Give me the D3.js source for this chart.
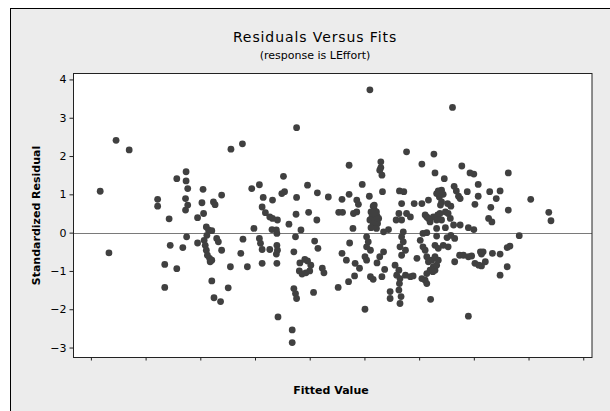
<!DOCTYPE html>
<html>
<head>
<meta charset="utf-8">
<script src="https://cdn.jsdelivr.net/npm/d3@7"></script>
<style>
  html, body { margin: 0; padding: 0; background: #fff; }
  svg { display: block; }
</style>
</head>
<body>
<div id="chart"></div>
<script>
// standardized residuals vs fitted values (response is LEffort)
const fitted = [
  1.17, 1.33, 1.46, 1.70, 2.22, 2.22, 2.43, 2.45, 2.35, 2.35, 2.57, 2.57, 2.68,
  2.74, 2.74, 2.77, 2.73, 2.77, 2.73, 2.75, 3.05, 3.03, 3.06, 2.95, 2.95, 3.24,
  3.27, 3.39, 3.11, 3.15, 3.21, 3.12, 3.07, 3.09, 3.11, 3.13, 3.17, 3.21, 3.18,
  3.30, 3.33, 3.39, 3.55, 3.21, 3.51, 3.25, 3.37, 3.56, 3.77, 3.94, 4.08, 4.15,
  4.32, 4.52, 4.49, 4.54, 4.76, 4.13, 4.19, 4.27, 4.32, 4.41, 4.62, 4.75, 3.98,
  4.31, 4.39, 4.40, 4.08, 4.10, 4.13, 4.27, 4.40, 4.41, 4.39, 4.74, 4.71, 3.78,
  3.74, 3.86, 4.13, 4.40, 4.71, 4.74, 4.76, 4.42, 4.68, 4.68, 4.76, 4.84,
  4.82, 4.81, 4.86, 4.93, 5.00, 5.02, 4.96, 4.91,
  4.96, 4.98, 5.09, 5.07, 5.13, 5.14, 5.15, 5.23, 5.26, 5.34, 5.52, 5.53, 5.60,
  5.59, 5.72, 6.30, 6.30, 6.28, 6.32, 7.05, 6.77, 5.96, 5.72, 5.86, 5.89, 5.86,
  6.09, 6.33, 6.64, 6.72, 6.68, 6.91, 7.05, 7.17, 5.80,
  6.16, 6.18, 6.12, 6.22, 6.14, 6.23, 6.10, 6.21, 6.16, 6.24, 6.12, 6.22, 6.18,
  6.17, 6.26,
  5.79, 6.63, 6.77, 6.58, 6.68, 6.84, 7.14, 6.35, 6.44, 6.71, 6.68, 6.71, 6.65,
  6.75, 6.68, 6.04, 6.07, 6.04, 6.11, 6.01, 6.04, 5.73, 5.59, 5.67, 6.35, 6.28,
  6.23, 5.83, 5.91, 7.02, 7.07, 7.11, 6.96, 6.56, 6.63, 6.59, 6.65, 6.64, 6.63,
  6.67, 6.65, 6.75, 6.84, 6.89, 7.05, 7.11, 7.14, 6.11, 6.16, 6.32, 5.82, 5.71,
  6.47, 6.47, 6.01, 6.10, 6.37,
  7.27, 7.78, 7.29, 7.46, 7.93, 8.00, 7.64, 7.68, 8.08, 8.63, 7.35, 7.41, 7.44,
  7.37, 7.32, 7.72, 7.75, 7.88, 8.29, 8.48, 8.08, 8.41, 7.52, 7.58, 7.41, 7.39,
  8.02, 8.31, 8.63, 7.11, 7.17, 7.26, 7.34, 7.38, 7.48, 7.53, 7.32, 7.41, 7.57,
  7.20, 8.27, 8.33, 7.63, 7.75, 7.90, 8.00, 7.32, 7.48, 7.07, 7.14, 7.32, 7.51,
  7.65, 7.14, 7.17, 7.23, 7.26, 7.20, 7.14, 7.29, 7.35, 7.44, 7.53, 7.29, 7.35,
  7.32, 7.29, 7.25, 7.65, 7.74, 7.81, 7.90, 7.96, 8.12, 8.17, 8.14, 8.02, 8.09,
  8.14, 8.21, 8.34, 8.48, 8.61, 8.66, 8.61, 8.48, 7.21, 7.90, 9.37, 9.41, 8.83,
  9.04, 7.61, 7.58
];
const stdResid = [
  1.08, -0.53, 2.41, 2.16, 0.87, 0.69, 0.36, -0.33, -0.83, -1.43, -0.94, 1.41, -0.39,
  1.59, 1.35, 1.15, 0.89, 0.72, 0.59, -0.11, 1.13, 0.78, 0.50, 0.39, -0.27, 0.80,
  0.73, 0.98, 0.15, 0.07, 0.05, -0.07, -0.20, -0.33, -0.46, -0.59, -0.67, -0.72, -0.76,
  -0.15, -0.24, -0.46, -0.89, -1.26, -1.44, -1.70, -1.80, 2.18, 2.32, 1.15, 1.25, 0.92,
  0.85, 1.47, 1.02, 1.07, 0.92, 0.67, 0.52, 0.41, 0.37, 0.33, 0.22, 0.48, 0.11,
  0.08, 0.07, -0.02, -0.15, -0.28, -0.44, -0.44, -0.33, -0.46, -0.56, -0.11, -0.50, -0.17,
  -0.54, -0.89, -0.80, -0.80, -1.46, -1.59, -1.72, -2.20, -2.54, -2.87, 2.74, 0.07,
  -0.79, -1.00, -1.08, -1.05, -1.00, -0.85, -0.74, -0.70,
  1.24, 0.53, -0.22, -1.56, 0.33, 1.04, -0.41, -0.93, -1.05, 0.93, -1.43, 0.53, 0.53,
  0.87, 1.76, 1.85, 1.70, 1.63, 1.50, 1.79, 2.11, 1.26, 1.00, 0.85, 0.74, 0.54,
  0.95, 1.07, 1.09, 1.07, 0.76, 0.76, 0.76, 0.85, 0.50,
  0.69, 0.60, 0.54, 0.54, 0.43, 0.43, 0.33, 0.33, 0.22, 0.24, 0.13, 0.11, 0.72,
  0.50, 0.37,
  0.11, 0.50, 0.50, 0.33, 0.33, 0.41, 0.41, 0.02, 0.08, 0.02, -0.11, -0.24, -0.37,
  -0.46, -0.59, -0.11, -0.24, -0.37, -0.46, -0.63, -0.72, -0.27, -0.54, -0.72, -0.50, -0.63,
  -0.79, -0.80, -0.93, -0.20, -0.37, -0.46, -0.67, -0.85, -0.98, -1.11, -1.20, -1.33, -1.50,
  -1.67, -1.85, -1.11, -1.15, -1.13, -1.20, -1.24, -1.33, -1.15, -1.22, -1.15, -1.13, -1.28,
  -1.54, -1.72, -2.00, 3.73, -0.96,
  2.05, 1.74, 1.56, 1.41, 1.56, 1.53, 1.21, 1.09, 1.26, 1.56, 1.09, 1.11, 1.00,
  0.93, 1.02, 0.95, 0.89, 1.07, 1.07, 1.09, 0.95, 0.89, 0.76, 0.69, 0.80, 0.72,
  0.74, 0.66, 0.59, 0.46, 0.37, 0.41, 0.46, 0.50, 0.54, 0.50, 0.33, 0.33, 0.37,
  0.28, 0.37, 0.28, 0.20, 0.20, 0.13, 0.08, 0.11, 0.13, -0.02, 0.00, -0.09, -0.13,
  -0.15, -0.63, -0.76, -0.72, -0.89, -0.98, -1.07, -0.33, -0.41, -0.33, -0.37, -0.63, -0.72,
  -0.85, -0.98, -1.02, -0.76, -0.59, -0.59, -0.63, -0.61, -0.50, -0.50, -0.56, -0.80, -0.85,
  -0.87, -0.76, -0.54, -0.56, -0.39, -0.35, -0.89, -1.11, -1.74, -2.18, 0.53, 0.31, -0.08,
  0.87, 3.27, -0.07
];
const yTicks = [-3, -2, -1, 0, 1, 2, 3, 4];
const xTicks = [1, 2, 3, 4, 5, 6, 7, 8, 9, 10];

const W = 610, H = 411;
const plot = {left: 73.5, top: 73.5, right: 592, bottom: 357.5};

const svg = d3.select("#chart").append("svg")
  .attr("width", W)
  .attr("height", H);

// gray panel, only its left and top edge are in view
svg.append("rect")
  .attr("x", 10.5).attr("y", 8.5)
  .attr("width", W + 20).attr("height", H + 20)
  .attr("fill", "#ececec")
  .attr("stroke", "#000")
  .attr("stroke-width", 1);

const x = d3.scaleLinear().domain([0.682, 10.16]).range([plot.left, plot.right]);
const y = d3.scaleLinear().domain([-3.26, 4.155]).range([plot.bottom, plot.top]);

svg.append("rect")
  .attr("x", plot.left).attr("y", plot.top)
  .attr("width", plot.right - plot.left).attr("height", plot.bottom - plot.top)
  .attr("fill", "#fff");

// zero reference line
svg.append("line")
  .attr("x1", plot.left).attr("x2", plot.right)
  .attr("y1", Math.round(y(0)) + 0.5).attr("y2", Math.round(y(0)) + 0.5)
  .attr("stroke", "#7a7a7a")
  .attr("stroke-width", 1);

svg.append("g")
  .selectAll("circle")
  .data(fitted.map((f, i) => [f, stdResid[i]]))
  .enter().append("circle")
  .attr("cx", d => x(d[0]))
  .attr("cy", d => y(d[1]))
  .attr("r", 3.4)
  .attr("fill", "#404040");

svg.append("rect")
  .attr("x", plot.left).attr("y", plot.top)
  .attr("width", plot.right - plot.left).attr("height", plot.bottom - plot.top)
  .attr("fill", "none")
  .attr("stroke", "#222")
  .attr("stroke-width", 1);

const yAxis = svg.append("g")
  .attr("transform", "translate(" + plot.left + ",0)")
  .call(d3.axisLeft(y).tickValues(yTicks).tickSize(4).tickPadding(3).tickFormat(d3.format("d")));
yAxis.select(".domain").remove();
yAxis.selectAll("text")
  .style("font-family", "'DejaVu Sans', sans-serif")
  .style("font-size", "11px")
  .attr("fill", "#000");
yAxis.selectAll("line").attr("stroke", "#222");

const xAxis = svg.append("g")
  .attr("transform", "translate(0," + plot.bottom + ")")
  .call(d3.axisBottom(x).tickValues(xTicks).tickSize(3).tickFormat(""));
xAxis.select(".domain").remove();
xAxis.selectAll("line").attr("stroke", "#222");

svg.append("text")
  .attr("x", 315).attr("y", 42)
  .attr("text-anchor", "middle")
  .style("font-family", "'DejaVu Sans', sans-serif")
  .style("font-size", "14px")
  .style("letter-spacing", "0.9px")
  .attr("fill", "#000")
  .text("Residuals Versus Fits");

svg.append("text")
  .attr("x", 315).attr("y", 59)
  .attr("text-anchor", "middle")
  .style("font-family", "'DejaVu Sans', sans-serif")
  .style("font-size", "11px")
  .attr("fill", "#000")
  .text("(response is LEffort)");

svg.append("text")
  .attr("x", 331).attr("y", 394)
  .attr("text-anchor", "middle")
  .style("font-family", "'DejaVu Sans', sans-serif")
  .style("font-size", "11px")
  .style("font-weight", "bold")
  .attr("fill", "#000")
  .text("Fitted Value");

svg.append("text")
  .attr("transform", "translate(40," + ((plot.top + plot.bottom) / 2) + ") rotate(-90)")
  .attr("text-anchor", "middle")
  .style("font-family", "'DejaVu Sans', sans-serif")
  .style("font-size", "11px")
  .style("font-weight", "bold")
  .attr("fill", "#000")
  .text("Standardized Residual");
</script>
</body>
</html>
